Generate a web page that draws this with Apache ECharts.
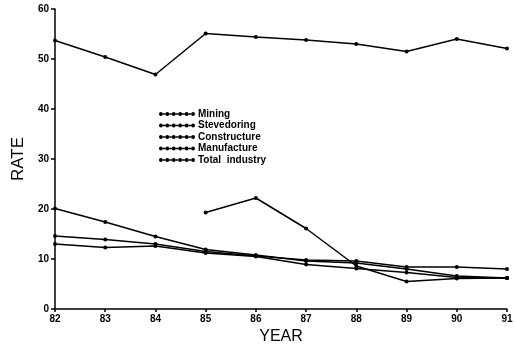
<!DOCTYPE html>
<html><head><meta charset="utf-8">
<script src="https://cdn.jsdelivr.net/npm/echarts@6/dist/echarts.min.js"></script>
<style>html,body{margin:0;padding:0;background:#fff}#c{width:514px;height:347px}</style>
</head><body><div id="c"></div>
<script>
var years = ['82','83','84','85','86','87','88','89','90','91'];
var mining = [null,null,null,19.3,22.2,16.1,8.6,5.5,6.1,6.2];
var stevedoring = [53.7,50.4,46.9,55.1,54.4,53.8,53.0,51.5,54.0,52.1];
var construction = [20.1,17.4,14.5,11.9,10.8,9.6,9.2,8.0,6.6,6.2];
var manufacture = [14.6,13.9,13.0,11.5,10.6,9.8,9.6,8.4,8.4,8.0];
var totalIndustry = [13.0,12.3,12.6,11.2,10.5,8.9,8.1,7.3,6.3,6.2];
var names = ['Mining','Stevedoring','Constructure','Manufacture','Total  industry'];
var datasets = [mining, stevedoring, construction, manufacture, totalIndustry];

var r = 1.9, step = 6.44, dots = 'path://';
for (var i = 0; i < 6; i++) {
  var cx = r + i * step;
  dots += 'M' + (cx - r) + ',5 a' + r + ',' + r + ' 0 1,0 ' + (2 * r) + ',0 a' + r + ',' + r + ' 0 1,0 ' + (-2 * r) + ',0 Z ';
  if (i < 5) {
    var x0 = cx + r, x1 = cx + step - r;
    dots += 'M' + x0 + ',4.2 L' + x1 + ',4.2 L' + x1 + ',5.8 L' + x0 + ',5.8 Z ';
  }
}

var chart = echarts.init(document.getElementById('c'));
chart.setOption({
  animation: false,
  grid: {left: 55, right: 7, top: 9, bottom: 38, outerBoundsMode: 'none', containLabel: false},
  legend: {
    orient: 'vertical', left: 154, top: 104, itemGap: 1.5,
    itemWidth: 36, itemHeight: 10, icon: dots,
    itemStyle: {color: '#000', borderWidth: 0},
    data: names,
    textStyle: {color: '#000', fontFamily: 'Liberation Sans', fontWeight: 'bold', fontSize: 10, padding: [0,0,0,-2]}
  },
  xAxis: {
    type: 'category', data: years, boundaryGap: false,
    name: 'YEAR', nameLocation: 'middle', nameGap: 20,
    nameTextStyle: {color: '#000', fontFamily: 'Liberation Sans', fontSize: 16},
    axisLine: {lineStyle: {color: '#000', width: 1.5}},
    axisTick: {show: true, length: 3, lineStyle: {color: '#000', width: 1.5}},
    axisLabel: {color: '#000', fontFamily: 'Liberation Sans', fontWeight: 'bold', fontSize: 10, margin: 5},
    splitLine: {show: false}
  },
  yAxis: {
    type: 'value', min: 0, max: 60, interval: 10,
    name: 'RATE', nameLocation: 'middle', nameGap: 27,
    nameTextStyle: {color: '#000', fontFamily: 'Liberation Sans', fontSize: 17},
    axisLine: {show: true, lineStyle: {color: '#000', width: 1.5}},
    axisTick: {show: true, length: 4, lineStyle: {color: '#000', width: 1.5}},
    axisLabel: {color: '#000', fontFamily: 'Liberation Sans', fontWeight: 'bold', fontSize: 10, margin: 6},
    splitLine: {show: false}
  },
  series: datasets.map(function (d, i) {
    return {
      name: names[i], type: 'line', data: d,
      symbol: 'circle', symbolSize: 4, showSymbol: true,
      lineStyle: {color: '#000', width: 1.5},
      itemStyle: {color: '#000'},
      connectNulls: false
    };
  })
});
</script></body></html>
